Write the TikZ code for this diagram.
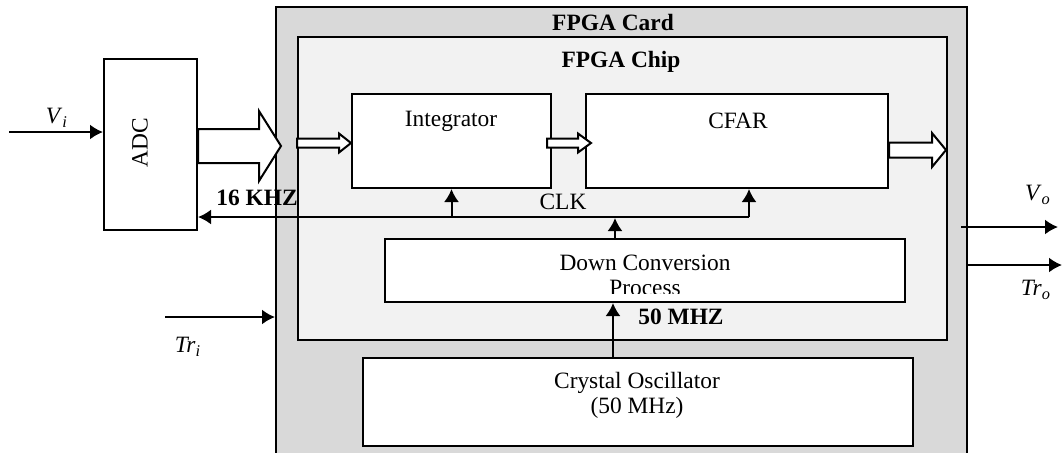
\documentclass[tikz,border=0pt]{standalone}
\usepackage{fontspec}
\setmainfont{Liberation Serif}
\usetikzlibrary{arrows.meta,calc}
\definecolor{cardgray}{HTML}{D9D9D9}
\definecolor{chipgray}{HTML}{F2F2F2}
\newcommand\dgfs{\fontsize{11.7}{14}\selectfont}
\tikzset{
  panel/.style={draw, line width=1pt, inner sep=0pt},
  blk/.style={draw, line width=1pt, fill=white, inner sep=0pt},
  txt/.style={inner sep=0pt, font=\dgfs},
  btxt/.style={inner sep=0pt, font=\dgfs\bfseries},
  arr/.style={line width=1pt, -{Latex[length=6.5pt,width=7.5pt]}},
  hollow/.style={draw, line width=1pt, fill=white, line join=miter},
}
\begin{document}
\begin{tikzpicture}[x=0.5pt,y=-0.5pt]
\clip (0,0) rectangle (1062,452);
% panels
\node[panel, fill=cardgray, minimum width=345.5pt, minimum height=230pt] (card) at (621.5,237) {};
\node[panel, fill=chipgray, minimum width=324.5pt, minimum height=151.5pt] (chip) at (622.5,188.5) {};
\node[btxt] (cardt) at (613,22) {FPGA Card};
\node[btxt] (chipt) at (621,62) {FPGA Chip};
% blocks
\node[blk, minimum width=46.5pt, minimum height=85.5pt] (adc) at (150.5,144.5) {};
\node[txt, rotate=90] (adct) at (140,143) {ADC};
\node[blk, minimum width=99.5pt, minimum height=47pt] (int) at (451.5,141) {};
\node[txt] (intt) at (451,121) {Integrator};
\node[blk, minimum width=151pt, minimum height=47pt] (cfar) at (737,141) {};
\node[txt] (cfart) at (738,121) {CFAR};
\node[blk, minimum width=260pt, minimum height=31.5pt] (dcp) at (645,270.5) {};
\node[txt] (dcpt) at (645,263) {Down Conversion};
\begin{scope}
  \clip ([yshift=5pt]dcp.south west) rectangle (dcp.north east);
  \node[txt] (dcpt2) at (645,288) {Process};
\end{scope}
\node[blk, minimum width=275pt, minimum height=44pt] (xo) at (638,402) {};
\node[txt, align=center] (xot) at (637,395.5) {Crystal Oscillator\\[-1.5pt](50 MHz)};
% labels
\node[btxt] (khz) at (257,198) {16 KHZ};
\node[txt] (clkt) at (563,202) {CLK};
\node[btxt] (mhz) at (681,317) {50 MHZ};
\node[txt] (vil) at (57,118) {\textit{V}\textsubscript{\textit{i}}};
\node[txt] (tril) at (188,347) {\textit{Tr}\textsubscript{\textit{i}}};
\node[txt] (vol) at (1038,195) {\textit{V}\textsubscript{\textit{o}}};
\node[txt] (trol) at (1036,290) {\textit{Tr}\textsubscript{\textit{o}}};
% coordinates
\coordinate (vin) at (9,132);
\coordinate (trin) at (165,317);
\coordinate (vos) at (961,227);
\coordinate (voe) at (1058,227);
\coordinate (troe) at (1062,265);
\coordinate (clk) at (749,217);
\coordinate (dcx) at (615,0);
\coordinate (xox) at (613,0);
\coordinate (y146) at (0,146);
\coordinate (y143) at (0,143);
\coordinate (y150) at (0,150);
% signal arrows
\draw[arr] (vin) -- (vin -| adc.west);
\draw[arr] (trin) -- (trin -| card.west);
\draw[arr] (vos) -- (voe);
\draw[arr] (card.east |- troe) -- (troe);
% clock network
\draw[arr] (clk) -- (clk |- cfar.south);
\draw[arr] (clk) -- (clk -| adc.east);
\draw[arr] (int.south |- clk) -- (int.south);
\draw[arr] (dcp.north -| dcx) -- ([yshift=-0.5pt]dcx |- clk);
\draw[arr] (xo.north -| xox) -- (xox |- dcp.south);
% hollow data arrows
\draw[hollow] (adc.east |- y146) ++(0,-17) -- ++(61,0) -- ++(0,-18) -- ++(22,35)
   -- ++(-22,35) -- ++(0,-18) -- ++(-61,0) -- cycle;
\draw[hollow] (chip.west |- y143) ++(0,-4.5) -- ++(42,0) -- ++(0,-5) -- ++(12,9.5)
   -- ++(-12,9.5) -- ++(0,-5) -- ++(-42,0) -- cycle;
\draw[hollow] ([xshift=-2.5pt]int.east |- y143) ++(0,-4.5) -- ++(31,0) -- ++(0,-5) -- ++(13,9.5)
   -- ++(-13,9.5) -- ++(0,-5) -- ++(-31,0) -- cycle;
\draw[hollow] (cfar.east |- y150) ++(0,-7.5) -- ++(43,0) -- ++(0,-9.5) -- ++(14,17)
   -- ++(-14,17) -- ++(0,-9.5) -- ++(-43,0) -- cycle;
\end{tikzpicture}
\end{document}
